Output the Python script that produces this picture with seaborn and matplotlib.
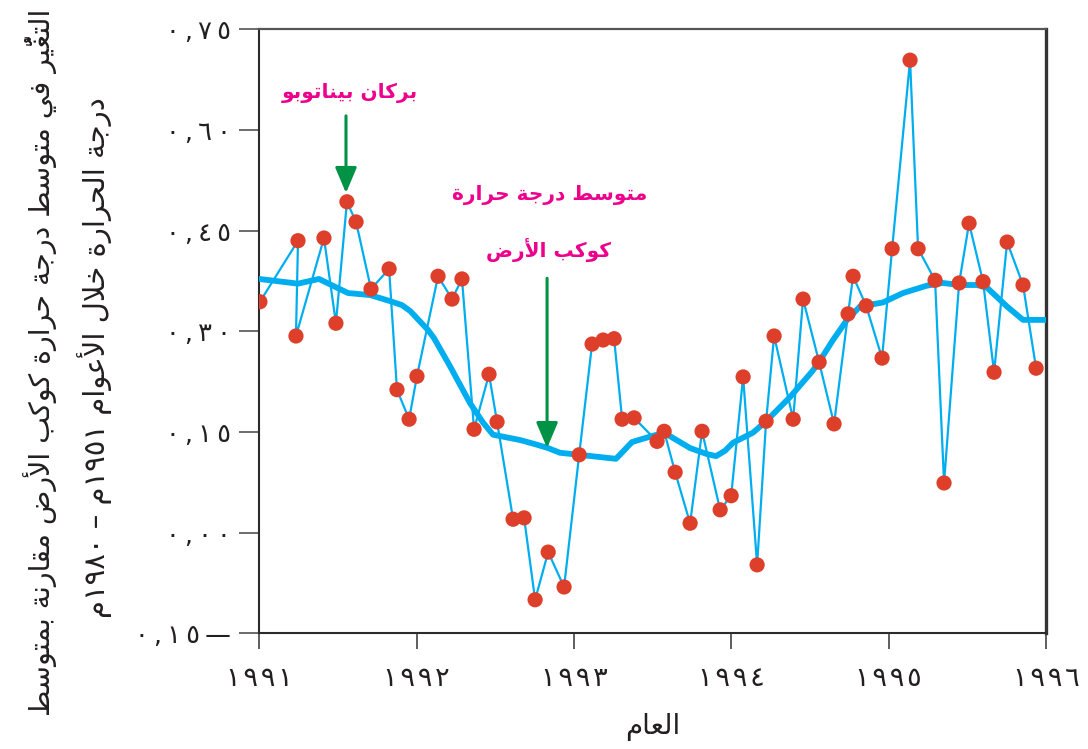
import matplotlib
matplotlib.use("Agg")
import matplotlib.pyplot as plt
import seaborn as sns
import pandas as pd

# ---------------------------------------------------------------- data
# monthly anomaly (degrees C, relative to the 1951-1980 mean), 1991-1995
month_time = [
    1991.004, 1991.246, 1991.233, 1991.411, 1991.487, 1991.557, 1991.615, 1991.710,
    1991.825, 1991.875, 1991.952, 1992.002, 1992.136, 1992.225, 1992.288, 1992.365,
    1992.460, 1992.511, 1992.613, 1992.683, 1992.753, 1992.836, 1992.937, 1993.033,
    1993.115, 1993.185, 1993.255, 1993.306, 1993.382, 1993.528, 1993.573, 1993.643,
    1993.738, 1993.814, 1993.929, 1993.999, 1994.075, 1994.164, 1994.221, 1994.272,
    1994.393, 1994.456, 1994.558, 1994.653, 1994.742, 1994.774, 1994.857, 1994.958,
    1995.022, 1995.136, 1995.187, 1995.295, 1995.352, 1995.448, 1995.511, 1995.600,
    1995.670, 1995.753, 1995.854, 1995.937,
]
month_anomaly = [
    0.344, 0.435, 0.293, 0.439, 0.312, 0.493, 0.463, 0.363,
    0.393, 0.213, 0.169, 0.233, 0.382, 0.348, 0.378, 0.154,
    0.236, 0.165, 0.020, 0.022, -0.100, -0.029, -0.081, 0.116,
    0.281, 0.287, 0.289, 0.169, 0.171, 0.136, 0.151, 0.090,
    0.014, 0.151, 0.034, 0.055, 0.232, -0.048, 0.166, 0.293,
    0.169, 0.348, 0.254, 0.162, 0.326, 0.382, 0.338, 0.260,
    0.423, 0.704, 0.423, 0.376, 0.074, 0.372, 0.461, 0.374,
    0.239, 0.433, 0.369, 0.245,
]

# running mean of the global temperature
mean_time = [
    1991.000, 1991.246, 1991.379, 1991.564, 1991.704, 1991.831, 1991.907, 1991.960,
    1992.020, 1992.072, 1992.110, 1992.212, 1992.339, 1992.422, 1992.485, 1992.549,
    1992.657, 1992.765, 1992.835, 1992.911, 1993.032, 1993.267, 1993.369, 1993.483,
    1993.573, 1993.630, 1993.738, 1993.846, 1993.903, 1993.960, 1994.011, 1994.138,
    1994.221, 1994.373, 1994.513, 1994.557, 1994.646, 1994.735, 1994.818, 1994.964,
    1995.091, 1995.243, 1995.345, 1995.447, 1995.561, 1995.625, 1995.752, 1995.854,
    1996.000,
]
mean_anomaly = [
    0.378, 0.371, 0.378, 0.357, 0.354, 0.345, 0.339, 0.330,
    0.315, 0.302, 0.290, 0.248, 0.193, 0.164, 0.146, 0.143,
    0.138, 0.131, 0.126, 0.119, 0.116, 0.110, 0.135, 0.143,
    0.149, 0.141, 0.126, 0.117, 0.114, 0.122, 0.134, 0.149,
    0.166, 0.202, 0.240, 0.254, 0.287, 0.317, 0.337, 0.343,
    0.357, 0.368, 0.372, 0.369, 0.369, 0.365, 0.337, 0.317,
    0.317,
]

year_ticks = [1991, 1992, 1993, 1994, 1995, 1996]
year_labels = ["١٩٩١", "١٩٩٢", "١٩٩٣", "١٩٩٤", "١٩٩٥", "١٩٩٦"]
value_ticks = [-0.15, 0.00, 0.15, 0.30, 0.45, 0.60, 0.75]
value_labels = ["٠,١٥—", "٠,٠٠", "٠,١٥", "٠,٣٠", "٠,٤٥", "٠,٦٠", "٠,٧٥"]

y_title_1 = "التغيُّر في متوسط درجة حرارة كوكب الأرض مقارنة بمتوسط"
y_title_2 = "درجة الحرارة خلال الأعوام ١٩٥١م – ١٩٨٠م"
x_title = "العام"
volcano_note = "بركان بيناتوبو"
mean_note_1 = "متوسط درجة حرارة"
mean_note_2 = "كوكب الأرض"

# ------------------------------------------- Arabic shaping for matplotlib
_ORDER = [("ء", 1), ("آ", 2), ("أ", 2), ("ؤ", 2), ("إ", 2), ("ئ", 4), ("ا", 2),
          ("ب", 4), ("ة", 2), ("ت", 4), ("ث", 4), ("ج", 4), ("ح", 4), ("خ", 4),
          ("د", 2), ("ذ", 2), ("ر", 2), ("ز", 2), ("س", 4), ("ش", 4), ("ص", 4),
          ("ض", 4), ("ط", 4), ("ظ", 4), ("ع", 4), ("غ", 4), ("ف", 4), ("ق", 4),
          ("ك", 4), ("ل", 4), ("م", 4), ("ن", 4), ("ه", 4), ("و", 2), ("ى", 2),
          ("ي", 4)]
FORMS = {}
_code = 0xFE80
for _ch, _n in _ORDER:
    FORMS[_ch] = tuple(range(_code, _code + _n))  # isolated, final, initial, medial
    _code += _n
LAM_ALEF = {"آ": (0xFEF5, 0xFEF6), "أ": (0xFEF7, 0xFEF8),
            "إ": (0xFEF9, 0xFEFA), "ا": (0xFEFB, 0xFEFC)}
MARKS = set("\u064B\u064C\u064D\u064E\u064F\u0650\u0651\u0652")
DIGITS = set("0123456789٠١٢٣٤٥٦٧٨٩")


def shape(text):
    clusters = []
    for c in text:
        if c in MARKS and clusters:
            clusters[-1][1].append(c)
        else:
            clusters.append([c, []])
    merged, i = [], 0
    while i < len(clusters):
        c, m = clusters[i]
        if c == "ل" and i + 1 < len(clusters) and clusters[i + 1][0] in LAM_ALEF:
            merged.append(["LA" + clusters[i + 1][0], m + clusters[i + 1][1]])
            i += 2
        else:
            merged.append([c, m])
            i += 1

    def dual(c):
        return (not c.startswith("LA")) and c in FORMS and len(FORMS[c]) == 4

    def joining(c):
        return c.startswith("LA") or (c in FORMS and c != "ء")

    glyphs = []
    for i, (c, m) in enumerate(merged):
        prev = merged[i - 1][0] if i > 0 else None
        nxt = merged[i + 1][0] if i + 1 < len(merged) else None
        jp = prev is not None and dual(prev) and joining(c)
        jn = nxt is not None and dual(c) and joining(nxt)
        if c.startswith("LA"):
            iso, fin = LAM_ALEF[c[2:]]
            g = chr(fin if jp else iso)
        elif c in FORMS:
            f = FORMS[c]
            if len(f) == 4:
                idx = 3 if (jp and jn) else 1 if jp else 2 if jn else 0
            else:
                idx = 1 if jp else 0
            g = chr(f[idx])
        else:
            g = c
        glyphs.append((c, g + "".join(m)))

    # visual order: right-to-left, numbers stay left-to-right
    tokens = []
    for c, g in glyphs:
        if c in DIGITS and tokens and tokens[-1][0]:
            tokens[-1][1] += g
        else:
            tokens.append([c in DIGITS, g])
    return "".join(t[1] for t in reversed(tokens))


def spaced(label, gap="\u2009"):
    """Open up the numerals a little."""
    return gap.join(label)


# ---------------------------------------------------------------- style
sns.set_theme(style="white")
plt.rcParams["font.family"] = ["DejaVu Sans"]

BLUE = "#00AEEF"
RED = "#DE3F2A"
GREEN = "#009245"
PINK = "#EC008C"
INK = "#231F20"

W, H = 1088, 749
fig = plt.figure(figsize=(W / 100, H / 100), dpi=100)
left, right, top, bottom = 259.3, 1046.0, 29.3, 633.3
ax = fig.add_axes([left / W, 1 - bottom / H, (right - left) / W, (bottom - top) / H])

monthly = pd.DataFrame({"time": month_time, "anomaly": month_anomaly})
smooth = pd.DataFrame({"time": mean_time, "anomaly": mean_anomaly})

sns.lineplot(data=monthly, x="time", y="anomaly", sort=False, estimator=None,
             color=BLUE, linewidth=1.6, ax=ax, zorder=2)
sns.lineplot(data=smooth, x="time", y="anomaly", sort=False, estimator=None,
             color=BLUE, linewidth=4.2, ax=ax, zorder=3)
sns.scatterplot(data=monthly, x="time", y="anomaly", color=RED, s=120,
                edgecolor="none", ax=ax, zorder=4)

ax.set_xlim(1991, 1996)
ax.set_ylim(-0.15, 0.75)
ax.set_xticks(year_ticks)
ax.set_xticklabels([spaced(t, "\u200a") for t in year_labels])
ax.set_yticks(value_ticks)
ax.set_yticklabels([spaced(t) for t in value_labels])
ax.tick_params(axis="y", direction="out", length=14.5, width=1.1, color="#444444",
               pad=6, labelsize=18.5, labelcolor=INK, left=True)
ax.tick_params(axis="x", direction="out", length=11.5, width=1.1, color="#333333",
               pad=12, labelsize=19.5, labelcolor=INK, bottom=True)
ax.set_ylabel("")
ax.set_xlabel(shape(x_title), fontsize=20, color=INK, va="center")
ax.xaxis.set_label_coords(0.5, -0.155)

for side in ("left", "bottom"):
    ax.spines[side].set_color("#2b2b2b")
    ax.spines[side].set_linewidth(1.5)
ax.spines["top"].set_color("#555555")
ax.spines["top"].set_linewidth(1.6)
ax.spines["right"].set_color("#333333")
ax.spines["right"].set_linewidth(2.4)

# two-line vertical axis title
fig.text(40 / W, 1 - 362 / H, shape(y_title_1), rotation=90, ha="center",
         va="center", fontsize=20.5, color=INK)
fig.text(95 / W, 1 - 358 / H, shape(y_title_2), rotation=90, ha="center",
         va="center", fontsize=21, color=INK)

# annotations
arrow = dict(arrowstyle="-|>,head_length=1.3,head_width=0.55", color=GREEN,
             lw=2.2, shrinkA=0, shrinkB=0)
ax.annotate("", xy=(1991.551, 0.506), xytext=(1991.551, 0.621),
            arrowprops=arrow, zorder=5)
ax.annotate("", xy=(1992.829, 0.126), xytext=(1992.829, 0.379),
            arrowprops=arrow, zorder=5)
ax.text(1991.576, 0.655, shape(volcano_note), ha="center", va="center",
        fontsize=14.5, fontweight="bold", color=PINK)
ax.text(1992.848, 0.503, shape(mean_note_1), ha="center", va="center",
        fontsize=14.5, fontweight="bold", color=PINK)
ax.text(1992.835, 0.421, shape(mean_note_2), ha="center", va="center",
        fontsize=14.5, fontweight="bold", color=PINK)

fig.savefig("out.png", dpi=100)
